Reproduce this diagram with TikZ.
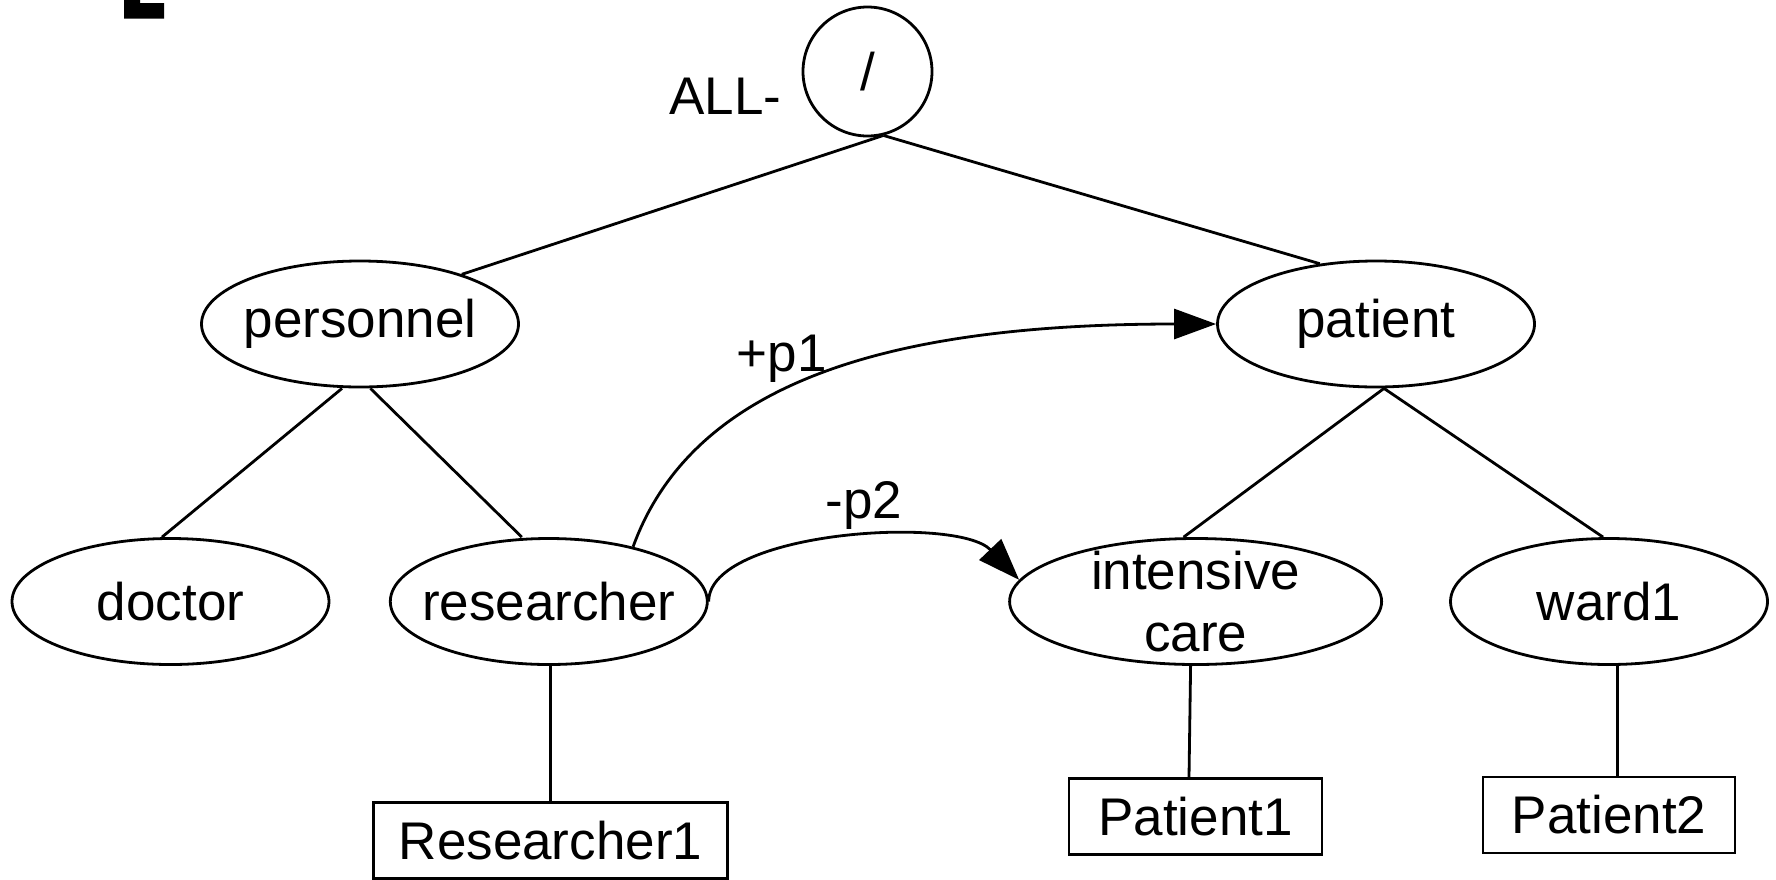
\documentclass[tikz,border=0pt]{standalone}
\usepackage{fontspec}
\setmainfont{Liberation Sans}
\usetikzlibrary{shapes.geometric,arrows.meta}
\begin{document}
\begin{tikzpicture}[x=1pt,y=-1pt,
  line width=2.8pt,
  every node/.style={font=\fontsize{53}{64.6}\selectfont},
  every label/.style={font=\fontsize{53}{62}\selectfont, align=center, inner sep=0pt},
  concept/.style={draw, ellipse, inner sep=0pt, minimum width=317pt,
    minimum height=126pt, label={center:#1}},
  inst/.style={draw, rectangle, inner sep=0pt, minimum height=76pt},
  rel/.style={-{Triangle[length=42pt,width=30pt]}}]
\useasboundingbox (0,0) rectangle (1776,879);

% fragment of a heading letter in the corner
\fill (124,0) -- (140,0) -- (140,3) -- (164,3) -- (164,18.5) -- (124,18.5) -- cycle;

% root of the hierarchy
\node[draw, circle, minimum size=129pt, inner sep=0pt] (root) at (867.5,71.5) {/};
\node[anchor=base] (all) at (725.5,114.4) {ALL-};

% concepts
\node[concept=personnel] (personnel) at (360,324) {};
\node[concept=patient] (patient) at (1376,324) {};
\node[concept=doctor] (doctor) at (170.5,601.5) {};
\node[concept=researcher] (researcher) at (548.8,601.5) {};
\node[concept={intensive\\care}, minimum width=372pt] (intensive) at (1195.6,601.5) {};
\node[concept=ward1] (ward) at (1609,601.5) {};

% instances
\node[inst, minimum width=354pt] (res1) at (550.5,840.5) {Researcher1};
\node[inst, minimum width=253pt] (pat1) at (1195.5,816.5) {Patient1};
\node[inst, minimum width=252pt] (pat2) at (1609,815) {Patient2};

% hierarchy edges
\draw (root.-76) -- (personnel.26);
\draw (root.-76) -- (patient.133);
\draw ([xshift=-18pt]personnel.south) -- ([xshift=-8.5pt]doctor.north);
\draw ([xshift=10.4pt]personnel.south) -- ([xshift=-27pt]researcher.north);
\draw ([xshift=8pt]patient.south) -- ([xshift=-12pt]intensive.north);
\draw ([xshift=8pt]patient.south) -- ([xshift=-6pt]ward.north);
\draw ([xshift=1.7pt]researcher.south) -- (res1.north);
\draw ([xshift=-5pt]intensive.south) -- ([xshift=-6.5pt]pat1.north);
\draw ([xshift=8.5pt]ward.south) -- ([xshift=8.5pt]pat2.north);

% permissions
\draw[rel] (researcher.33) .. controls +(61.6,-169.2) and +(-317,0) .. (patient.west);
\draw[rel] (researcher.east) .. controls +(0,-70) and +(-62,-65) .. (intensive.173.8);
\node[anchor=base] (p1) at (781.6,371.5) {+p1};
\node[anchor=base] (p2) at (864,518.8) {-p2};
\end{tikzpicture}
\end{document}
